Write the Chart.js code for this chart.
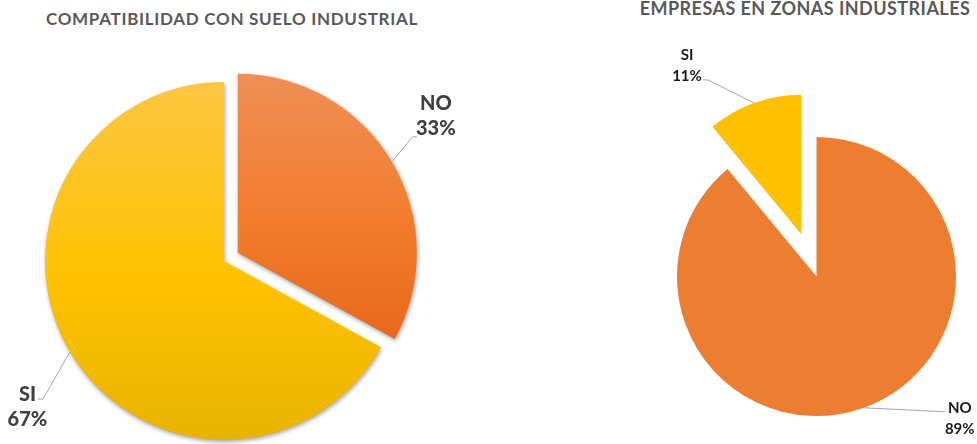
<!DOCTYPE html>
<html>
<head>
<meta charset="utf-8">
<script src="https://cdn.jsdelivr.net/npm/chart.js@4.4.1/dist/chart.umd.min.js"></script>
<style>
  html, body { margin: 0; padding: 0; background: #fff; overflow: hidden; }
  body { width: 977px; height: 444px; position: relative; font-family: Lato, sans-serif; }
  .title { position: absolute; font-weight: bold; color: #595959; white-space: nowrap; text-align: center; }
  #t1 { left: 0; top: 10px; width: 464px; font-size: 17px; line-height: 17px; letter-spacing: 0.7px; }
  #t2 { left: 633px; top: -1px; width: 344px; font-size: 18px; line-height: 18px; letter-spacing: 0.45px; }
  canvas { position: absolute; left: 0; top: 0; }
</style>
</head>
<body>
<div class="title" id="t1">COMPATIBILIDAD CON SUELO INDUSTRIAL</div>
<div class="title" id="t2">EMPRESAS EN ZONAS INDUSTRIALES</div>
<canvas id="compatChart" width="977" height="444"></canvas>
<canvas id="empresasChart" width="977" height="444"></canvas>
<script>
// datos
const compatLabels = ['NO', 'SI'];
const compatValues = [33, 67];
const empresasLabels = ['NO', 'SI'];
const empresasValues = [89, 11];

// colores (degradado arriba -> abajo en el grafico de la izquierda)
const compatTop = ['#F08F57', '#FDC641'];
const compatMid = ['#F27C2C', '#FFC200'];
const compatBottom = ['#E8681C', '#E8B300'];
const empresasColors = ['#ED7D31', '#FFC000'];

// separa las porciones hacia fuera sin cambiar el angulo
const explodePlugin = {
  id: 'explode',
  beforeDatasetDraw(chart, args, opts) {
    const ctx = chart.ctx;
    args.meta.data.forEach((arc, i) => {
      const d = opts.offsets[i] || 0;
      const mid = (arc.startAngle + arc.endAngle) / 2;
      ctx.save();
      if (opts.shadow) {
        ctx.shadowColor = 'rgba(0,0,0,0.35)';
        ctx.shadowBlur = 4;
        ctx.shadowOffsetX = 1;
        ctx.shadowOffsetY = 2;
      }
      ctx.translate(Math.cos(mid) * d, Math.sin(mid) * d);
      arc.draw(ctx);
      ctx.restore();
    });
    return false;
  }
};

// etiquetas con linea guia
const leaderPlugin = {
  id: 'leaders',
  afterDatasetsDraw(chart, args, opts) {
    const ctx = chart.ctx;
    const meta = chart.getDatasetMeta(0);
    const values = chart.data.datasets[0].data;
    const total = values.reduce((a, b) => a + b, 0);
    const offsets = chart.options.plugins.explode.offsets;
    meta.data.forEach((arc, i) => {
      const s = opts.items[i];
      const mid = (arc.startAngle + arc.endAngle) / 2;
      const r = arc.outerRadius + (offsets[i] || 0);
      const ex = arc.x + Math.cos(mid) * r;
      const ey = arc.y + Math.sin(mid) * r;
      const bx = ex + s.bend[0];
      const by = ey + s.bend[1];
      ctx.save();
      ctx.strokeStyle = '#A6A6A6';
      ctx.lineWidth = 1;
      ctx.beginPath();
      ctx.moveTo(ex, ey);
      ctx.lineTo(bx, by);
      ctx.lineTo(bx + s.tail, by);
      ctx.stroke();
      ctx.fillStyle = opts.color;
      ctx.font = opts.font;
      ctx.textAlign = 'center';
      ctx.textBaseline = 'middle';
      const pct = Math.round(values[i] / total * 100) + '%';
      ctx.fillText(chart.data.labels[i], bx + s.text[0], by + s.text[1]);
      ctx.fillText(pct, bx + s.text[0], by + s.text[1] + opts.lineHeight);
      ctx.restore();
    });
  }
};

function compatFill(c) {
  const i = c.dataIndex;
  const area = c.chart.chartArea;
  if (!area) return compatMid[i];
  const h = area.bottom - area.top;
  const bottom = i === 0 ? area.top + h * 0.75 : area.bottom;
  const g = c.chart.ctx.createLinearGradient(0, area.top, 0, bottom);
  g.addColorStop(0, compatTop[i]);
  g.addColorStop(0.55, compatMid[i]);
  g.addColorStop(1, compatBottom[i]);
  return g;
}

new Chart(document.getElementById('compatChart'), {
  type: 'pie',
  data: {
    labels: compatLabels,
    datasets: [{
      data: compatValues,
      backgroundColor: compatFill,
      borderWidth: 0
    }]
  },
  options: {
    responsive: false,
    animation: false,
    layout: { padding: { left: 45, top: 82, right: 574, bottom: 4 } },
    plugins: {
      legend: { display: false },
      tooltip: { enabled: false },
      explode: { offsets: [16, 0], shadow: true },
      leaders: {
        color: '#404040',
        font: '900 20px Lato',
        lineHeight: 25,
        items: [
          { bend: [21, -25], tail: 4, text: [23, -33] },
          { bend: [-27, 47], tail: -5, text: [-15.5, -5] }
        ]
      }
    }
  },
  plugins: [explodePlugin, leaderPlugin]
});

new Chart(document.getElementById('empresasChart'), {
  type: 'pie',
  data: {
    labels: empresasLabels,
    datasets: [{
      data: empresasValues,
      backgroundColor: empresasColors,
      borderWidth: 0
    }]
  },
  options: {
    responsive: false,
    animation: false,
    layout: { padding: { left: 677, top: 137, right: 21, bottom: 28 } },
    plugins: {
      legend: { display: false },
      tooltip: { enabled: false },
      explode: { offsets: [0, 45], shadow: false },
      leaders: {
        color: '#1A1A1A',
        font: 'bold 15px Lato',
        lineHeight: 21.5,
        items: [
          { bend: [81, 4], tail: 0, text: [15, -4] },
          { bend: [-46, -23], tail: -5, text: [-21, -25] }
        ]
      }
    }
  },
  plugins: [explodePlugin, leaderPlugin]
});
</script>
</body>
</html>
